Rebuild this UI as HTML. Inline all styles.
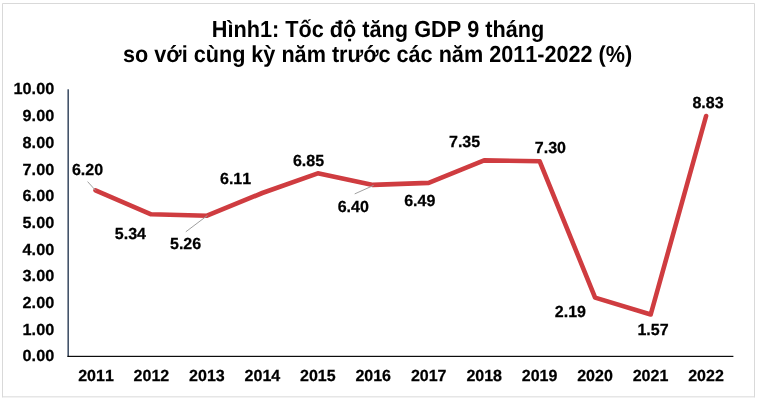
<!DOCTYPE html>
<html lang="vi"><head><meta charset="utf-8"><title>Hình1</title>
<style>
html,body{margin:0;padding:0;background:#fff;}
svg{display:block;}
text{font-family:"Liberation Sans",Arial,sans-serif;font-weight:bold;fill:#000;text-rendering:geometricPrecision;}
.t{font-size:21.7px;text-anchor:middle;font-kerning:none;}
.a,.x,.d{font-kerning:none;}
.a{font-size:16px;text-anchor:end;stroke:#000;stroke-width:0.25px;}
.x{font-size:16px;text-anchor:middle;stroke:#000;stroke-width:0.25px;}
.d{font-size:16px;text-anchor:start;stroke:#000;stroke-width:0.25px;}
</style></head><body>
<svg xmlns="http://www.w3.org/2000/svg" width="761" height="403" viewBox="0 0 761 403">
<rect x="0" y="0" width="761" height="403" fill="#ffffff"/>
<path d="M2.5,397.3 V3.5 H754.5 V397.3 M2,396.85 H755" fill="none" stroke="#d9d9d9" stroke-width="1"/>
<text class="t" transform="translate(378,36.7) scale(1,1.07)">Hình1: Tốc độ tăng GDP 9 tháng</text>
<text class="t" style="font-size:21.64px" transform="translate(377.6,61.6) scale(1,1.07)">so với cùng kỳ năm trước các năm 2011-2022 (%)</text>
<rect x="67.4" y="89.3" width="1.6" height="267.4" fill="#44546a"/>
<rect x="67.4" y="355.8" width="666" height="1.15" fill="#000"/>

<text class="a" transform="translate(54.2,361.1) scale(1.015,1.0)">0.00</text>
<text class="a" transform="translate(54.2,335.4) scale(1.015,1.0)">1.00</text>
<text class="a" transform="translate(54.2,307.8) scale(1.015,1.0)">2.00</text>
<text class="a" transform="translate(54.2,281.1) scale(1.015,1.0)">3.00</text>
<text class="a" transform="translate(54.2,255.3) scale(1.015,1.0)">4.00</text>
<text class="a" transform="translate(54.2,227.9) scale(1.015,1.0)">5.00</text>
<text class="a" transform="translate(54.2,201.1) scale(1.015,1.0)">6.00</text>
<text class="a" transform="translate(54.2,174.8) scale(1.015,1.0)">7.00</text>
<text class="a" transform="translate(54.2,147.7) scale(1.015,1.0)">8.00</text>
<text class="a" transform="translate(54.2,120.9) scale(1.015,1.0)">9.00</text>
<text class="a" transform="translate(54.2,94.4) scale(1.015,1.0)">10.00</text>
<text class="x" transform="translate(96.0,380.6) scale(1.0,1.0)">2011</text>
<text class="x" transform="translate(151.4,380.6) scale(1.0,1.0)">2012</text>
<text class="x" transform="translate(206.9,380.6) scale(1.0,1.0)">2013</text>
<text class="x" transform="translate(262.4,380.6) scale(1.0,1.0)">2014</text>
<text class="x" transform="translate(317.8,380.6) scale(1.0,1.0)">2015</text>
<text class="x" transform="translate(373.2,380.6) scale(1.0,1.0)">2016</text>
<text class="x" transform="translate(428.7,380.6) scale(1.0,1.0)">2017</text>
<text class="x" transform="translate(484.2,380.6) scale(1.0,1.0)">2018</text>
<text class="x" transform="translate(539.6,380.6) scale(1.0,1.0)">2019</text>
<text class="x" transform="translate(595.0,380.6) scale(1.0,1.0)">2020</text>
<text class="x" transform="translate(650.5,380.6) scale(1.0,1.0)">2021</text>
<text class="x" transform="translate(706.0,380.6) scale(1.0,1.0)">2022</text>
<polyline points="95.5,190.3 151.1,214.3 207.0,215.7 262.3,193.0 317.8,173.3 373.0,184.9 428.7,182.9 484.1,160.4 539.7,161.3 595.1,297.6 650.7,314.5 706.1,116.0" fill="none" stroke="#cf3c40" stroke-width="4.6" stroke-linecap="round" stroke-linejoin="round"/>
<line x1="87.6" y1="181.6" x2="95.6" y2="190.5" stroke="#a0a0a0" stroke-width="1"/>
<line x1="185.8" y1="231.8" x2="207.4" y2="215.5" stroke="#a0a0a0" stroke-width="1"/>
<line x1="354.7" y1="193.9" x2="373.6" y2="185.4" stroke="#a0a0a0" stroke-width="1"/>
<text class="d" transform="translate(71.9,175.0) scale(1.0,1.0)">6.20</text>
<text class="d" transform="translate(114.8,238.9) scale(1.0,1.0)">5.34</text>
<text class="d" transform="translate(170.0,249.2) scale(1.0,1.0)">5.26</text>
<text class="d" transform="translate(220.0,183.7) scale(1.0,1.0)">6.11</text>
<text class="d" transform="translate(292.9,165.5) scale(1.0,1.0)">6.85</text>
<text class="d" transform="translate(337.7,211.6) scale(1.0,1.0)">6.40</text>
<text class="d" transform="translate(404.2,206.3) scale(1.0,1.0)">6.49</text>
<text class="d" transform="translate(449.0,146.8) scale(1.0,1.0)">7.35</text>
<text class="d" transform="translate(534.8,152.9) scale(1.0,1.0)">7.30</text>
<text class="d" transform="translate(554.8,316.8) scale(1.0,1.0)">2.19</text>
<text class="d" transform="translate(637.4,334.7) scale(1.0,1.0)">1.57</text>
<text class="d" transform="translate(692.4,107.8) scale(1.0,1.0)">8.83</text>
</svg></body></html>
